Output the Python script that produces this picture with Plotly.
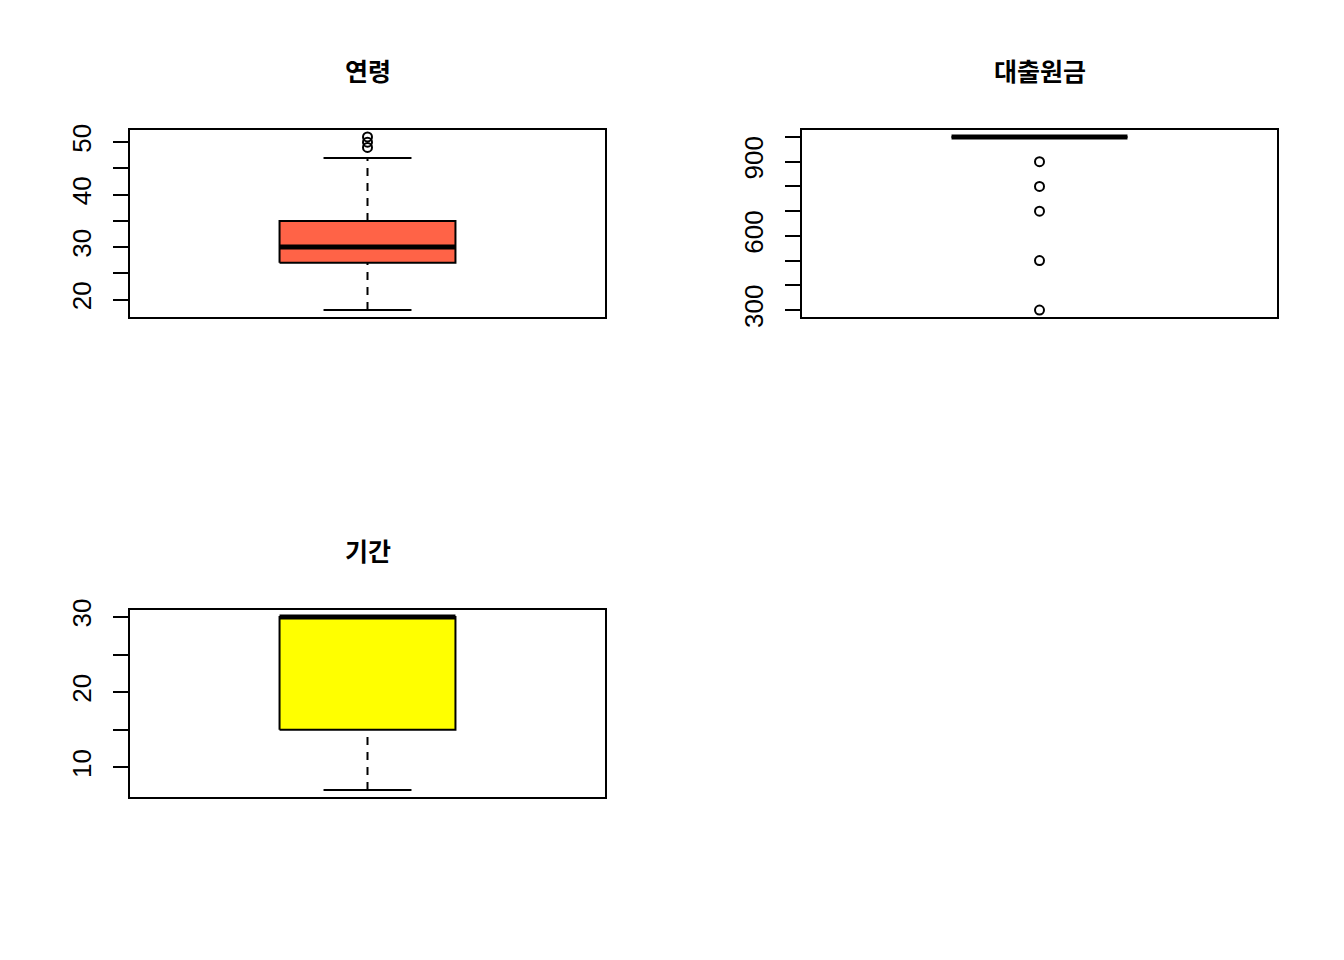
import plotly.graph_objects as go

# ---- data ----
titles = ["연령", "대출원금", "기간"]
box_colors = ["#FF6347", "#FFFFFF", "#FFFF00"]

age_stats = [18, 27, 30, 35, 47]          # lower whisker, Q1, median, Q3, upper whisker
age_outliers = [49, 50, 51]

loan_stats = [1000, 1000, 1000, 1000, 1000]
loan_outliers = [300, 500, 700, 800, 900]

term_stats = [7, 15, 30, 30, 30]
term_outliers = []

y_ranges = [[16.68, 52.32], [272, 1028], [6.08, 30.92]]
tick_vals = [[20, 25, 30, 35, 40, 45, 50],
             [300, 400, 500, 600, 700, 800, 900, 1000],
             [10, 15, 20, 25, 30]]
tick_text = [["20", "", "30", "", "40", "", "50"],
             ["300", "", "", "600", "", "", "900", ""],
             ["10", "", "20", "", "30"]]

stats_all = [age_stats, loan_stats, term_stats]
outliers_all = [age_outliers, loan_outliers, term_outliers]

# ---- layout constants ----
W, H = 1344, 960
CENTER = 1.0
BOX_HALF = 0.2
CAP_HALF = 0.1
panels = [  # (left, top, right, bottom) in px
    (130, 130, 605, 317),
    (802, 130, 1277, 317),
    (130, 610, 605, 797),
]

fig = go.Figure()

for i in range(3):
    ax = "" if i == 0 else str(i + 1)
    xref, yref = "x" + ax, "y" + ax
    lo, q1, med, q3, hi = stats_all[i]
    x0, x1 = CENTER - BOX_HALF, CENTER + BOX_HALF
    c0, c1 = CENTER - CAP_HALF, CENTER + CAP_HALF

    # box body
    fig.add_trace(go.Scatter(
        x=[x0, x1, x1, x0, x0], y=[q1, q1, q3, q3, q1],
        mode="lines", fill="toself", fillcolor=box_colors[i],
        line=dict(color="black", width=2), xaxis=xref, yaxis=yref,
        hoverinfo="skip", showlegend=False))
    # whiskers (dashed)
    if lo < q1:
        fig.add_trace(go.Scatter(
            x=[CENTER, CENTER], y=[lo, q1], mode="lines",
            line=dict(color="black", width=2, dash="8px,7px"),
            xaxis=xref, yaxis=yref, hoverinfo="skip", showlegend=False))
    if hi > q3:
        fig.add_trace(go.Scatter(
            x=[CENTER, CENTER], y=[q3, hi], mode="lines",
            line=dict(color="black", width=2, dash="8px,7px"),
            xaxis=xref, yaxis=yref, hoverinfo="skip", showlegend=False))
    # caps
    for v, ref in ((lo, q1), (hi, q3)):
        if v != ref:
            fig.add_trace(go.Scatter(
                x=[c0, c1], y=[v, v], mode="lines",
                line=dict(color="black", width=2),
                xaxis=xref, yaxis=yref, hoverinfo="skip", showlegend=False))
    # median
    fig.add_trace(go.Scatter(
        x=[x0, x1], y=[med, med], mode="lines",
        line=dict(color="black", width=5),
        xaxis=xref, yaxis=yref, hoverinfo="skip", showlegend=False))
    # outliers
    if outliers_all[i]:
        fig.add_trace(go.Scatter(
            x=[CENTER] * len(outliers_all[i]), y=outliers_all[i], mode="markers",
            marker=dict(symbol="circle-open", size=9, color="black",
                        line=dict(width=2, color="black")),
            xaxis=xref, yaxis=yref, hoverinfo="skip", showlegend=False))

    l, t, r, b = panels[i]
    xd = [l / W, r / W]
    yd = [1 - b / H, 1 - t / H]
    fig.update_layout(**{
        "xaxis" + ax: dict(domain=xd, range=[0.46, 1.54], showticklabels=False,
                           ticks="", showgrid=False, zeroline=False,
                           showline=True, mirror=True, linecolor="black",
                           linewidth=2, anchor=yref, fixedrange=True,
                           automargin=False),
        "yaxis" + ax: dict(domain=yd, range=y_ranges[i], tickvals=tick_vals[i],
                           ticktext=tick_text[i], tickangle=-90, ticks="outside",
                           ticklen=15, tickwidth=2, tickcolor="black",
                           ticklabelstandoff=12,
                           tickfont=dict(family="Liberation Sans, Arial", size=26,
                                         color="black"),
                           showgrid=False, zeroline=False, showline=True,
                           mirror=True, linecolor="black", linewidth=2,
                           anchor=xref, fixedrange=True, automargin=False),
    })
    fig.add_annotation(
        text="<b>" + titles[i] + "</b>", xref="paper", yref="paper",
        x=(l + r) / 2 / W, y=1 - (t - 60) / H, xanchor="center", yanchor="middle",
        showarrow=False,
        font=dict(family="Noto Sans CJK KR", size=25, color="black"))

fig.update_layout(
    width=W, height=H, margin=dict(l=0, r=0, t=0, b=0, autoexpand=False),
    paper_bgcolor="white", plot_bgcolor="white", showlegend=False)

fig.write_html("out.html", config={"displayModeBar": False})
